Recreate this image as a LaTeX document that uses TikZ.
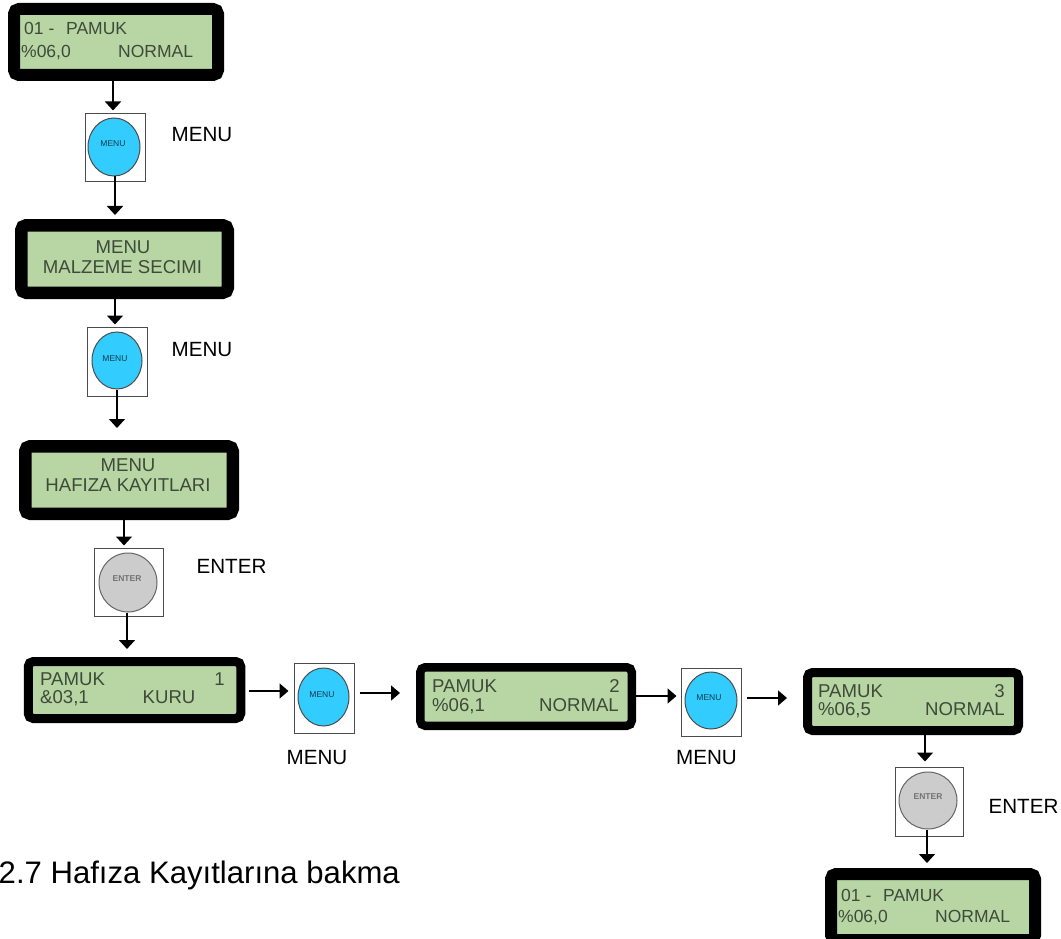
\documentclass[tikz,border=0pt]{standalone}
\usepackage{fontspec}
\setmainfont{Liberation Sans}
\usetikzlibrary{arrows.meta,shapes.geometric,shapes.misc}
\definecolor{lcdgreen}{HTML}{B7D6A3}
\definecolor{lcdtext}{HTML}{3F4A3A}
\definecolor{btnblue}{HTML}{33CCFF}
\definecolor{btngrey}{HTML}{CCCCCC}
\tikzset{
  x=1pt,y=-1pt,
  lcd/.style={draw=black,fill=lcdgreen,rounded corners=5pt,inner sep=0,line width=#1},
  lcdline/.style={inner sep=0,text=lcdtext,font=\fontsize{18.6}{20}\selectfont},
  lcdsmall/.style={inner sep=0,text=lcdtext,font=\fontsize{17.5}{20}\selectfont},
  frame/.style={chamfered rectangle,chamfered rectangle xsep=5pt,chamfered rectangle ysep=5pt,draw=black!70,fill=white,inner sep=0,line width=1pt},
  bluekey/.style={ellipse,draw=black!70,fill=btnblue,inner sep=0,line width=1pt},
  greykey/.style={ellipse,draw=black!60,fill=btngrey,inner sep=0,line width=1pt},
  menutext/.style={inner sep=0,text=black!70!btnblue,font=\fontsize{8.5}{9}\selectfont},
  entertext/.style={inner sep=0,text=black!55,font=\bfseries\fontsize{8.5}{9}\selectfont},
  captext/.style={inner sep=0,font=\fontsize{20.6}{24}\selectfont},
  arr/.style={-{Triangle[length=9pt,width=16pt]},line width=1.6pt},
  harr/.style={-{Triangle[length=9pt,width=15pt]},line width=1.6pt},
}
\begin{document}
\begin{tikzpicture}
\useasboundingbox (0,0) rectangle (1061,939);
\clip (0,0) rectangle (1061,939);

% displays
\node[lcd=12pt,minimum width=204pt,minimum height=66pt] (d1) at (116,42) {};
\node[lcdsmall,anchor=base west] (d1a) at (24,35) {01 -\hspace{11.8pt}PAMUK};
\node[lcdsmall,anchor=base west] (d1b) at (21,58) {\%06,0};
\node[lcdsmall,anchor=base west] (d1c) at (118,58) {NORMAL};

\node[lcd=12.5pt,minimum width=206.5pt,minimum height=67.5pt] (d2) at (124.5,259) {};
\node[lcdline,anchor=base] (d2a) at (123,253) {MENU};
\node[lcdline,anchor=base] (d2b) at (122.5,273) {MALZEME SECIMI};

\node[lcd=12.5pt,minimum width=207.5pt,minimum height=67.5pt] (d3) at (129,480) {};
\node[lcdline,anchor=base] (d3a) at (128,471) {MENU};
\node[lcdline,anchor=base] (d3b) at (128,491) {HAFIZA KAYITLARI};

\node[lcd=9pt,minimum width=212.5pt,minimum height=57pt] (d4) at (134.5,690) {};
\node[lcdline,anchor=base west] (d4a) at (40,685) {PAMUK};
\node[lcdline,anchor=base east] (d4b) at (225,685) {1};
\node[lcdline,anchor=base west] (d4c) at (40,703) {\&03,1};
\node[lcdline,anchor=base west] (d4d) at (142.5,703) {KURU};

\node[lcd=8.5pt,minimum width=211.5pt,minimum height=58.5pt] (d5) at (526,696.5) {};
\node[lcdline,anchor=base west] (d5a) at (432,692) {PAMUK};
\node[lcdline,anchor=base east] (d5b) at (620,692) {2};
\node[lcdline,anchor=base west] (d5c) at (432,711) {\%06,1};
\node[lcdline,anchor=base east] (d5d) at (619,711) {NORMAL};

\node[lcd=9pt,minimum width=211pt,minimum height=58pt] (d6) at (913,701.5) {};
\node[lcdline,anchor=base west] (d6a) at (818,697) {PAMUK};
\node[lcdline,anchor=base east] (d6b) at (1005,697) {3};
\node[lcdline,anchor=base west] (d6c) at (818,715) {\%06,5};
\node[lcdline,anchor=base east] (d6d) at (1005,715) {NORMAL};

\node[lcd=12pt,minimum width=204pt,minimum height=66pt] (d7) at (933,907) {};
\node[lcdsmall,anchor=base west] (d7a) at (841,901) {01 -\hspace{11.8pt}PAMUK};
\node[lcdsmall,anchor=base west] (d7b) at (838,922) {\%06,0};
\node[lcdsmall,anchor=base west] (d7c) at (935,922) {NORMAL};

% keys
\node[frame,chamfered rectangle corners={south west,south east},minimum width=60pt,minimum height=68pt] (k1) at (115,148) {};
\node[bluekey,minimum width=52pt,minimum height=58pt] (k1c) at (114,147) {};
\node[menutext] (k1t) at (113,144) {MENU};

\node[frame,chamfered rectangle corners={south west,south east},minimum width=60pt,minimum height=69pt] (k2) at (117,361.5) {};
\node[bluekey,minimum width=50pt,minimum height=57pt] (k2c) at (117,360.5) {};
\node[menutext] (k2t) at (115,359) {MENU};

\node[frame,chamfered rectangle corners={south west,south east,north east},minimum width=69pt,minimum height=68pt] (k3) at (128.5,582) {};
\node[greykey,minimum width=58pt,minimum height=59pt] (k3c) at (128,582.5) {};
\node[entertext] (k3t) at (127,579) {ENTER};

\node[frame,chamfered rectangle corners={south west,south east},minimum width=60pt,minimum height=70pt] (k4) at (324,698) {};
\node[bluekey,minimum width=51pt,minimum height=58pt] (k4c) at (323.5,697) {};
\node[menutext] (k4t) at (322,695) {MENU};

\node[frame,chamfered rectangle corners={south west,south east},minimum width=60pt,minimum height=68pt] (k5) at (711,702) {};
\node[bluekey,minimum width=52pt,minimum height=57pt] (k5c) at (711,700.5) {};
\node[menutext] (k5t) at (709,698) {MENU};

\node[frame,chamfered rectangle corners={south west,south east,north east},minimum width=68pt,minimum height=69pt] (k6) at (929,801.5) {};
\node[greykey,minimum width=58pt,minimum height=57pt] (k6c) at (928,800.5) {};
\node[entertext] (k6t) at (928,797) {ENTER};

% connectors
\draw[arr,shorten >=3pt] ([xshift=-3pt]d1.south) -- ([xshift=-2pt]k1.north);
\draw[arr,shorten >=4pt] ([xshift=1pt]k1c.south) -- ([xshift=-9.5pt]d2.north);
\draw[arr,shorten >=2pt] ([xshift=-9.5pt]d2.south) -- ([xshift=-2pt]k2.north);
\draw[arr,shorten >=12pt] (k2c.south) -- ([xshift=-12pt]d3.north);
\draw[arr,shorten >=2pt] ([xshift=-5pt]d3.south) -- ([xshift=-4.5pt]k3.north);
\draw[arr,shorten >=8pt] ([xshift=-1pt]k3c.south) -- ([xshift=-7.5pt]d4.north);
\draw[harr,shorten <=4pt,shorten >=5pt] ([yshift=-1pt]d4.east) -- ([yshift=7pt]k4.west);
\draw[harr,shorten <=5pt,shorten >=16pt] ([yshift=5pt]k4.east) -- ([yshift=3.5pt]d5.west);
\draw[harr,shorten >=4pt] ([yshift=0.5pt]d5.east) -- ([yshift=6pt]k5.west);
\draw[harr,shorten <=5pt,shorten >=16pt] ([yshift=4pt]k5.east) -- ([yshift=3.5pt]d6.west);
\draw[arr,shorten >=5pt] ([xshift=12pt]d6.south) -- ([xshift=-4pt]k6.north);
\draw[arr,shorten >=5pt] ([xshift=-1pt]k6c.south) -- ([xshift=-6pt]d7.north);

% captions
\node[captext] (c1) at (202,135) {MENU};
\node[captext] (c2) at (202,350) {MENU};
\node[captext] (c3) at (231.5,566.5) {ENTER};
\node[captext] (c4) at (317,758) {MENU};
\node[captext] (c5) at (706.5,758) {MENU};
\node[captext] (c6) at (1023.5,806) {ENTER};
\node[inner sep=0,anchor=base east,font=\fontsize{31.1}{36}\selectfont] (title) at (400,883) {2.7 Hafıza Kayıtlarına bakma};
\end{tikzpicture}
\end{document}
